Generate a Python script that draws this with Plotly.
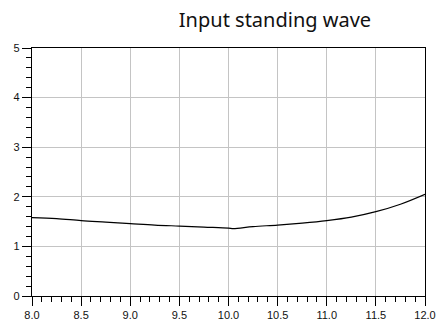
import plotly.graph_objects as go

freq = [8.0, 8.25, 8.5, 8.75, 9.0, 9.25, 9.5, 9.75, 10.0, 10.05, 10.25, 10.5, 10.75, 11.0, 11.25, 11.5, 11.75, 12.0]
vswr = [1.58, 1.56, 1.52, 1.49, 1.46, 1.43, 1.41, 1.39, 1.37, 1.36, 1.40, 1.43, 1.47, 1.52, 1.59, 1.70, 1.85, 2.05]
title_text = "Input standing wave"

fig = go.Figure()
fig.add_trace(go.Scatter(x=freq, y=vswr, mode="lines", line_shape="spline",
                         line=dict(color="black", width=1.2), showlegend=False))

axis_common = dict(showline=True, linecolor="black", linewidth=1.2, mirror=True,
                   ticks="outside", ticklen=9, tickcolor="black", tickwidth=1,
                   showgrid=True, gridcolor="#c4c4c4", gridwidth=1, automargin=False,
                   zeroline=False, tickfont=dict(family="Liberation Sans, Arial", size=11, color="#111"))

fig.update_xaxes(range=[8, 12], dtick=0.5, tick0=8, tickformat=".1f",
                 minor=dict(dtick=0.1, ticklen=5, ticks="outside", tickcolor="black", showgrid=False),
                 **axis_common)
fig.update_yaxes(range=[0, 5], dtick=1, tick0=0,
                 minor=dict(dtick=0.2, ticklen=5, ticks="outside", tickcolor="black", showgrid=False),
                 **axis_common)

fig.update_layout(
    width=438, height=323,
    margin=dict(l=32, r=13, t=48, b=27),
    plot_bgcolor="white", paper_bgcolor="white",
    title=dict(text=title_text, x=275/438, xanchor="center", y=1-20/323, yanchor="middle",
               font=dict(family="Noto Sans", size=20, color="#111")),
)
fig.write_html("out.html", config={"displayModeBar": False},
               post_script="document.body.style.margin='0';document.body.style.overflow='hidden';")
